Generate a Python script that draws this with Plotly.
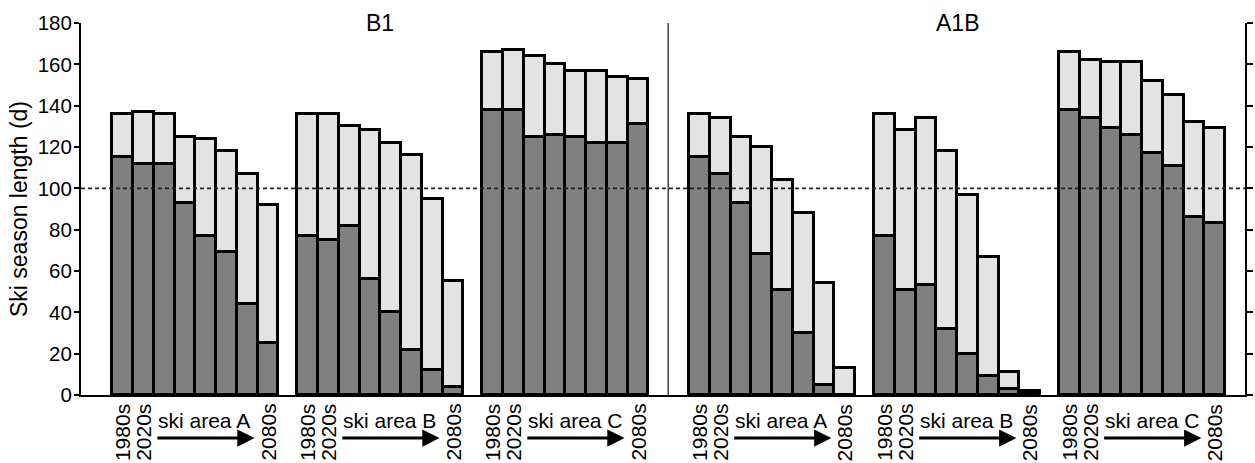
import plotly.graph_objects as go

# ---------------- data ----------------
decades = ["1980s", "2020s", "2030s", "2040s", "2050s", "2060s", "2070s", "2080s"]
scenarios = ["B1", "A1B"]
areas = ["A", "B", "C"]

# natural snow season length (dark) and season length with snowmaking (total)
b1_a_natural = [115, 112, 112, 93, 77, 69, 44, 25]
b1_a_total = [136, 137, 136, 125, 124, 118, 107, 92]
b1_b_natural = [77, 75, 82, 56, 40, 22, 12, 4]
b1_b_total = [136, 136, 130, 128, 122, 116, 95, 55]
b1_c_natural = [138, 138, 125, 126, 125, 122, 122, 131]
b1_c_total = [166, 167, 164, 160, 157, 157, 154, 153]

a1b_a_natural = [115, 107, 93, 68, 51, 30, 5, 0]
a1b_a_total = [136, 134, 125, 120, 104, 88, 54, 13]
a1b_b_natural = [77, 51, 53, 32, 20, 9, 3, 1]
a1b_b_total = [136, 128, 134, 118, 97, 67, 11, 2]
a1b_c_natural = [138, 134, 129, 126, 117, 111, 86, 83]
a1b_c_total = [166, 162, 161, 161, 152, 145, 132, 129]

threshold = 100
y_ticks = [0, 20, 40, 60, 80, 100, 120, 140, 160, 180]

natural = {
    ("B1", "A"): b1_a_natural, ("B1", "B"): b1_b_natural, ("B1", "C"): b1_c_natural,
    ("A1B", "A"): a1b_a_natural, ("A1B", "B"): a1b_b_natural, ("A1B", "C"): a1b_c_natural,
}
total = {
    ("B1", "A"): b1_a_total, ("B1", "B"): b1_b_total, ("B1", "C"): b1_c_total,
    ("A1B", "A"): a1b_a_total, ("A1B", "B"): a1b_b_total, ("A1B", "C"): a1b_c_total,
}

# ---------------- layout helpers ----------------
FONT = "Arial, 'Liberation Sans', sans-serif"
DARK = "#808080"
LIGHT = "#e3e3e3"
GROUP_STRIDE = 8.9
PANEL_OFFSET = 27.75
FIRST_START = 1.5
X_MAX = 56.0
DIVIDER_X = 28.25


def group_start(p, g):
    return FIRST_START + GROUP_STRIDE * g + PANEL_OFFSET * p


xs, nat_vals, snow_vals = [], [], []
for p, sc in enumerate(scenarios):
    for g, ar in enumerate(areas):
        s = group_start(p, g)
        for i in range(len(decades)):
            xs.append(s + i + 0.5)
            nat_vals.append(natural[(sc, ar)][i])
            snow_vals.append(total[(sc, ar)][i] - natural[(sc, ar)][i])

fig = go.Figure()
fig.add_trace(go.Bar(x=xs, y=nat_vals, width=1.0, marker=dict(color=DARK, line=dict(color="black", width=3)),
                     name="natural", showlegend=False))
fig.add_trace(go.Bar(x=xs, y=snow_vals, width=1.0, marker=dict(color=LIGHT, line=dict(color="black", width=3)),
                     name="snowmaking", showlegend=False))
# invisible trace for right axis
fig.add_trace(go.Scatter(x=[None], y=[None], yaxis="y2", showlegend=False))

annotations = []
for p, sc in enumerate(scenarios):
    # panel title above centre group
    annotations.append(dict(x=group_start(p, 1) + 4, y=180, xref="x", yref="y", text=sc, showarrow=False,
                            font=dict(family=FONT, size=23, color="black"), xanchor="center", yanchor="middle",
                            yshift=0))
    for g, ar in enumerate(areas):
        s = group_start(p, g)
        for i in (0, 1, len(decades) - 1):
            annotations.append(dict(x=s + i + 0.5, y=0, xref="x", yref="y", text=decades[i], showarrow=False,
                                    textangle=-90, font=dict(family=FONT, size=21, color="black"),
                                    xanchor="center", yanchor="top", yshift=-7))
        annotations.append(dict(x=s + 2.1, y=0, xref="x", yref="y", text="ski area " + ar, showarrow=False,
                                font=dict(family=FONT, size=21, color="black"), xanchor="left",
                                yanchor="middle", yshift=-25))
        annotations.append(dict(x=s + 6.85, y=0, ax=s + 2.1, ay=0, xref="x", yref="y", axref="x", ayref="y",
                                text="", showarrow=True, arrowhead=2, arrowsize=1.15, arrowwidth=3,
                                arrowcolor="black", standoff=0, startstandoff=0, yshift=-43))

shapes = [
    dict(type="line", xref="paper", yref="y", x0=0, x1=1, y0=threshold, y1=threshold,
         line=dict(color="#222222", width=1.8, dash="4px,3px"), layer="above"),
    dict(type="line", xref="x", yref="y", x0=DIVIDER_X, x1=DIVIDER_X, y0=0, y1=180,
         line=dict(color="#444444", width=1.5), layer="above"),
]

fig.update_layout(
    width=1255, height=463,
    margin=dict(l=81, r=4, t=23, b=68),
    paper_bgcolor="white", plot_bgcolor="white",
    barmode="stack", bargap=0,
    font=dict(family=FONT, size=19, color="black"),
    xaxis=dict(range=[0, X_MAX], showgrid=False, zeroline=False, showticklabels=False, ticks="",
               showline=True, linecolor="black", linewidth=2),
    yaxis=dict(range=[0, 180], tickvals=y_ticks, showgrid=False, zeroline=False, ticks="outside", ticklen=5,
               tickwidth=2, tickcolor="black", showline=True, linecolor="black", linewidth=2,
               tickfont=dict(family=FONT, size=20.5, color="black"), ticklabelstandoff=-2,
               title=dict(text="Ski season length (d)", font=dict(family=FONT, size=23, color="black"), standoff=4)),
    yaxis2=dict(range=[0, 180], tickvals=y_ticks, overlaying="y", side="right", showgrid=False, zeroline=False,
                ticks="outside", ticklen=6, tickwidth=1.5, tickcolor="black", showline=True, linecolor="black",
                linewidth=1.5, showticklabels=False),
    annotations=annotations,
    shapes=shapes,
)

fig.write_html("out.html")
